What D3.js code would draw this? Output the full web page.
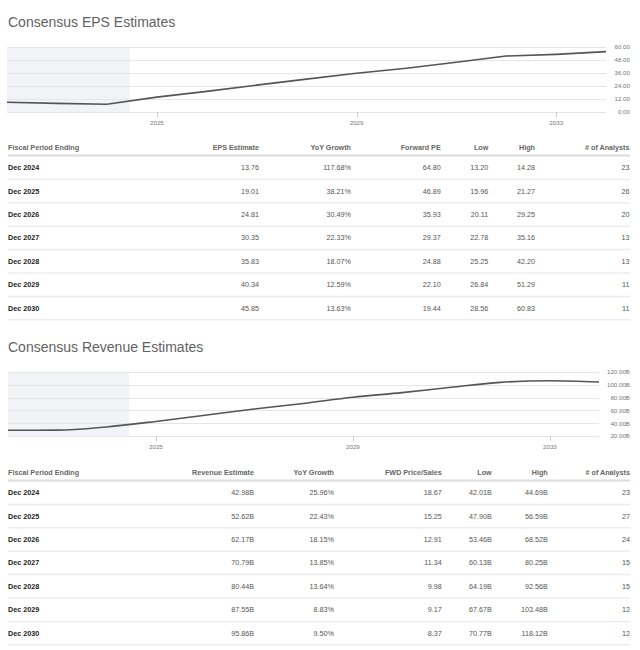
<!DOCTYPE html>
<html><head><meta charset="utf-8">
<script src="https://cdn.jsdelivr.net/npm/d3@7"></script>
<style>
body{margin:0;background:#fff}
svg{display:block;font-family:"Liberation Sans",Arial,Helvetica,sans-serif}
</style>
</head><body>
<svg id="c" width="640" height="650"></svg>
<script>
// ---------- data ----------
const pointDates = ["2021-12-31","2022-12-31","2023-12-31","2024-12-31","2025-12-31","2026-12-31","2027-12-31","2028-12-31","2029-12-31","2030-12-31","2031-12-31","2032-12-31","2033-12-31"];
const epsSeries = [8.95, 8.0, 7.1, 13.76, 19.01, 24.81, 30.35, 35.83, 40.34, 45.85, 51.7, 53.2, 55.7];
const revSeries = [29.3, 29.5, 34.5, 42.98, 52.62, 62.17, 70.79, 80.44, 87.55, 95.86, 103.5, 106.0, 104.0];
const epsTicks = [0, 12, 24, 36, 48, 60];
const revTicks = [20, 40, 60, 80, 100, 120];
const xTickYears = [2025, 2029, 2033];
const pastEnd = "2024-06-17";

const periods = ["Dec 2024","Dec 2025","Dec 2026","Dec 2027","Dec 2028","Dec 2029","Dec 2030"];
const epsHeaders = ["Fiscal Period Ending","EPS Estimate","YoY Growth","Forward PE","Low","High","# of Analysts"];
const epsEstimate = ["13.76","19.01","24.81","30.35","35.83","40.34","45.85"];
const epsYoY = ["117.68%","38.21%","30.49%","22.33%","18.07%","12.59%","13.63%"];
const epsFwdPE = ["64.80","46.89","35.93","29.37","24.88","22.10","19.44"];
const epsLow = ["13.20","15.96","20.11","22.78","25.25","26.84","28.56"];
const epsHigh = ["14.28","21.27","29.25","35.16","42.20","51.29","60.83"];
const epsAnalysts = ["23","26","20","13","13","11","11"];

const revHeaders = ["Fiscal Period Ending","Revenue Estimate","YoY Growth","FWD Price/Sales","Low","High","# of Analysts"];
const revEstimate = ["42.98B","52.62B","62.17B","70.79B","80.44B","87.55B","95.86B"];
const revYoY = ["25.96%","22.43%","18.15%","13.85%","13.64%","8.83%","9.50%"];
const revPS = ["18.67","15.25","12.91","11.34","9.98","9.17","8.37"];
const revLow = ["42.01B","47.90B","53.46B","60.13B","64.19B","67.67B","70.77B"];
const revHigh = ["44.69B","56.59B","68.52B","80.25B","92.56B","103.48B","118.12B"];
const revAnalysts = ["23","27","24","15","15","12","12"];

// ---------- drawing ----------
const svg = d3.select("#c");
const parse = d3.timeParse("%Y-%m-%d");
const dates = pointDates.map(parse);

function drawChart(cfg) {
  const g = svg.append("g");
  g.append("text").attr("x", 8).attr("y", cfg.titleY)
    .attr("fill", "#626262").attr("font-size", cfg.titleSize).text(cfg.title);

  const x = d3.scaleTime().domain([dates[0], dates[dates.length - 1]]).range([cfg.x0, cfg.x1]);
  const y = d3.scaleLinear().domain(cfg.yDomain).range([cfg.yBottom, cfg.yTop]);

  g.append("rect").attr("x", cfg.x0).attr("y", cfg.yTop)
    .attr("width", x(parse(pastEnd)) - cfg.x0).attr("height", cfg.yBottom - cfg.yTop)
    .attr("fill", "#f2f3f6");

  g.selectAll(".grid").data(cfg.ticks).join("line")
    .attr("x1", cfg.x0).attr("x2", cfg.x1)
    .attr("y1", d => Math.round(y(d)) + 0.5).attr("y2", d => Math.round(y(d)) + 0.5)
    .attr("stroke", "#e6e6e6").attr("stroke-width", 1.2);

  g.selectAll(".yl").data(cfg.ticks).join("text")
    .attr("x", 630).attr("y", d => y(d)).attr("dy", "0.35em")
    .attr("text-anchor", "end").attr("font-size", 6.2).attr("fill", "#777")
    .text(cfg.fmt);

  const xt = xTickYears.map(yr => new Date(yr, 0, 1));
  g.selectAll(".xt").data(xt).join("line")
    .attr("x1", d => Math.round(x(d)) + 0.5).attr("x2", d => Math.round(x(d)) + 0.5)
    .attr("y1", cfg.yBottom).attr("y2", cfg.yBottom + 5)
    .attr("stroke", "#ccc");
  g.selectAll(".xl").data(xt).join("text")
    .attr("x", d => x(d)).attr("y", cfg.yBottom + 13)
    .attr("text-anchor", "middle").attr("font-size", 6.2).attr("fill", "#777")
    .text(d => d.getFullYear());

  const line = d3.line().x((d, i) => x(dates[i])).y(d => y(d)).curve(cfg.curve);
  g.append("path").datum(cfg.values).attr("d", line)
    .attr("fill", "none").attr("stroke", "#555").attr("stroke-width", 1.6);
}

drawChart({title: "Consensus EPS Estimates", titleY: 26.5, titleSize: 14,
  x0: 7, x1: 606, yTop: 47, yBottom: 112, yDomain: [0, 60], ticks: epsTicks,
  fmt: d => d.toFixed(2), values: epsSeries, curve: d3.curveLinear});
drawChart({title: "Consensus Revenue Estimates", titleY: 351.5, titleSize: 14,
  x0: 8, x1: 599, yTop: 371.7, yBottom: 436.3, yDomain: [20, 120], ticks: revTicks,
  fmt: d => d.toFixed(2) + "B", values: revSeries, curve: d3.curveMonotoneX});

function drawTable(cfg) {
  const g = svg.append("g");
  const rows = d3.scaleBand().domain(periods).range([cfg.top, cfg.top + 23.4 * periods.length]);
  const fs = 7.2;
  g.selectAll(".h").data(cfg.headers).join("text")
    .attr("x", (d, i) => cfg.cols[i]).attr("y", cfg.headerY).attr("dy", "0.35em")
    .attr("text-anchor", (d, i) => i === 0 ? "start" : "end")
    .attr("font-size", fs).attr("font-weight", "bold").attr("fill", "#666").text(d => d);
  g.append("line").attr("x1", 8).attr("x2", 630).attr("y1", cfg.top - 0.5).attr("y2", cfg.top - 0.5)
    .attr("stroke", "#dcdcdc").attr("stroke-width", 2);
  g.selectAll(".sep").data(periods).join("line")
    .attr("x1", 8).attr("x2", 630)
    .attr("y1", d => rows(d) + rows.bandwidth()).attr("y2", d => rows(d) + rows.bandwidth())
    .attr("stroke", "#ececec").attr("stroke-width", 1.5);
  periods.forEach((p, r) => {
    const cy = rows(p) + rows.bandwidth() / 2;
    g.append("text").attr("x", cfg.cols[0]).attr("y", cy).attr("dy", "0.35em")
      .attr("font-size", fs).attr("font-weight", "bold").attr("fill", "#222").text(p);
    cfg.columns.forEach((col, c) => {
      g.append("text").attr("x", cfg.cols[c + 1]).attr("y", cy).attr("dy", "0.35em")
        .attr("text-anchor", "end").attr("font-size", fs).attr("fill", "#555").text(col[r]);
    });
  });
}

drawTable({headers: epsHeaders, headerY: 147.5, top: 156,
  cols: [8, 259, 351, 440.7, 488.3, 535, 629.5],
  columns: [epsEstimate, epsYoY, epsFwdPE, epsLow, epsHigh, epsAnalysts]});
drawTable({headers: revHeaders, headerY: 472.5, top: 481,
  cols: [8, 254, 334, 441.7, 491.7, 547.7, 630],
  columns: [revEstimate, revYoY, revPS, revLow, revHigh, revAnalysts]});
</script>
</body></html>
